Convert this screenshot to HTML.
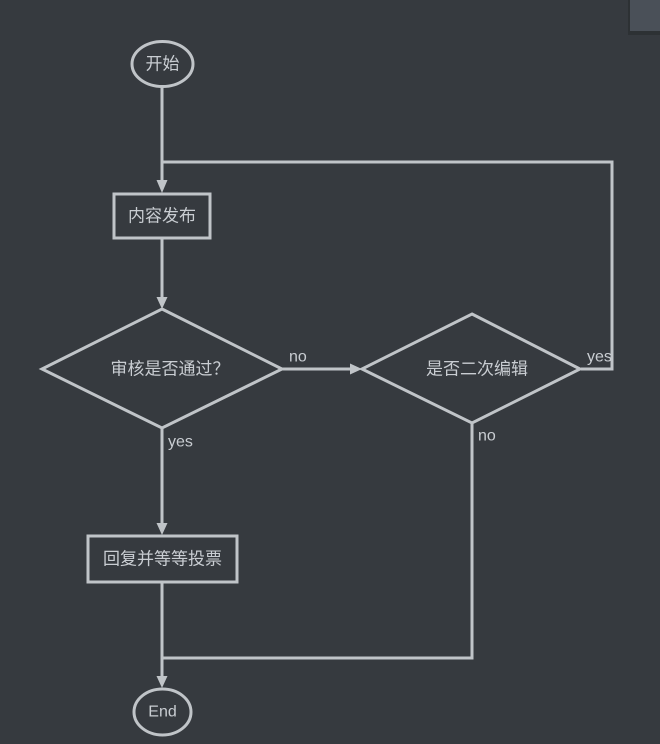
<!DOCTYPE html>
<html><head><meta charset="utf-8"><style>
html,body{margin:0;padding:0;background:#363a3f;width:660px;height:744px;overflow:hidden;}
svg{display:block;}
text{font-family:"Liberation Sans","Noto Sans CJK SC",sans-serif;fill:#c9cdd2;}
</style></head><body>
<svg width="660" height="744" viewBox="0 0 660 744" xmlns="http://www.w3.org/2000/svg">
<rect x="0" y="0" width="660" height="744" fill="#363a3f"/>
<rect x="628" y="0" width="32" height="35" fill="#2a2d31" opacity="0.7"/>
<rect x="630" y="0" width="30" height="31" fill="#4a5058"/>
<g stroke="#c0c4c8" stroke-width="3" fill="none">
<ellipse cx="162.5" cy="64" rx="30.5" ry="22.5"/>
<line x1="162" y1="87" x2="162" y2="184"/>
<polyline points="162,162 612,162 612,369 581,369"/>
<rect x="114" y="194" width="96" height="44"/>
<line x1="162" y1="239" x2="162" y2="300"/>
<polygon points="162,309 282,369 162,428 42,369"/>
<line x1="282" y1="369" x2="354" y2="369"/>
<polygon points="472,314 580,369 472,423 362,369"/>
<line x1="162" y1="428" x2="162" y2="527"/>
<rect x="88" y="536" width="149" height="46"/>
<line x1="162" y1="582" x2="162" y2="679"/>
<polyline points="472,423 472,658 162,658"/>
<ellipse cx="162.5" cy="712" rx="28.5" ry="23"/>
</g>
<g fill="#c0c4c8">
<polygon points="156.5,180 167.5,180 162,193"/>
<polygon points="156.5,297 167.5,297 162,309"/>
<polygon points="350,363.5 350,374.5 362,369"/>
<polygon points="156.5,523 167.5,523 162,535"/>
<polygon points="156.5,676 167.5,676 162,688"/>
</g>
<g font-size="17" text-anchor="middle" dominant-baseline="central">
<text x="162.5" y="64">开始</text>
<text x="162" y="216">内容发布</text>
<text x="170" y="369">审核是否通过？</text>
<text x="477" y="369">是否二次编辑</text>
<text x="162.5" y="559">回复并等等投票</text>
<text x="162.5" y="712" font-size="16">End</text>
</g>
<g font-size="16" dominant-baseline="central">
<text x="289" y="357">no</text>
<text x="168" y="442">yes</text>
<text x="587" y="357">yes</text>
<text x="478" y="436">no</text>
</g>
</svg>
</body></html>
